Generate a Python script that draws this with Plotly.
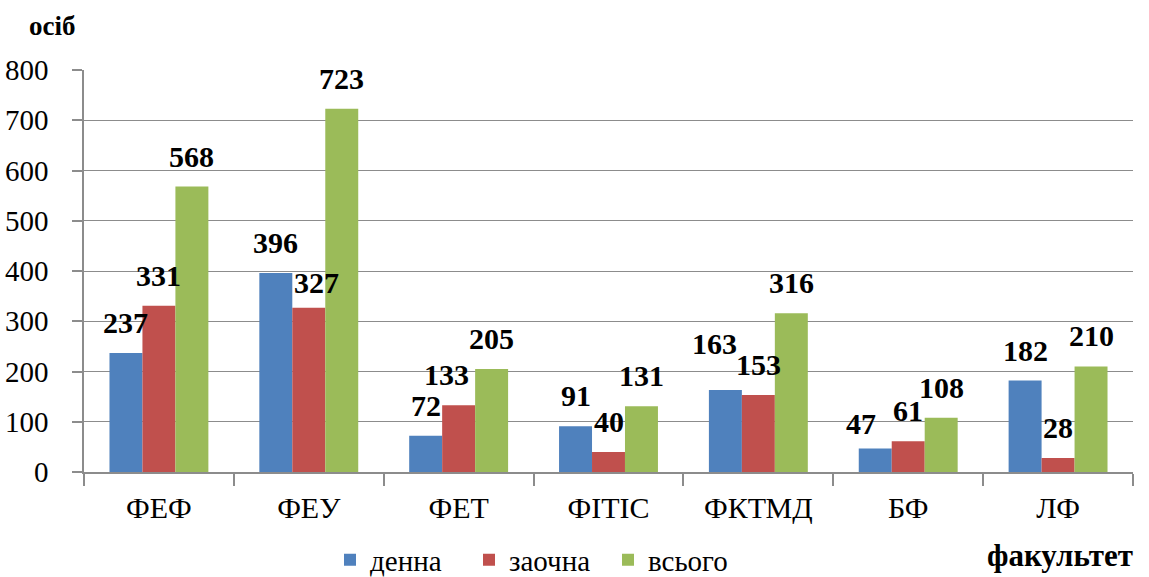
import plotly.graph_objects as go

categories = ["ФЕФ", "ФЕУ", "ФЕТ", "ФІТІС", "ФКТМД", "БФ", "ЛФ"]
series_names = ["денна", "заочна", "всього"]
denna = [237, 396, 72, 91, 163, 47, 182]
zaochna = [331, 327, 133, 40, 153, 61, 28]
vsogo = [568, 723, 205, 131, 316, 108, 210]
y_ticks = [0, 100, 200, 300, 400, 500, 600, 700, 800]

colors = ["#4F81BD", "#C0504D", "#9BBB59"]
FONT = "'Liberation Serif', 'Times New Roman', Tinos, serif"

# small nudges (px) for a few overlapping labels: (series, category) -> (dx, dy)
label_nudge = {(1, "ФЕТ"): (-12, 0), (1, "ФЕУ"): (8, -5),
               (0, "ФКТМД"): (-11, 16), (0, "БФ"): (-14, -6)}

# body margin is removed by a post script, so the figure fills the page
W, H = 1149, 577
px_left, px_right, px_top, px_bottom = 84, 1133, 70, 472  # plot area in px
ml, mt = px_left, px_top
mr, mb = W - px_right, H - px_bottom
plot_w = px_right - px_left
plot_h = px_bottom - px_top


def paper_x(px):
    return (px - px_left) / plot_w


def paper_y(py):
    return (px_bottom - py) / plot_h


fig = go.Figure()
all_series = [denna, zaochna, vsogo]
for name, vals, col in zip(series_names, all_series, colors):
    fig.add_trace(go.Bar(x=categories, y=vals, name=name, marker_color=col,
                         marker_line_width=0))

cat_w = plot_w / len(categories)
bargap = 0.34
bar_w = cat_w * (1 - bargap) / 3

annotations = []
for si, vals in enumerate(all_series):
    for cat, v in zip(categories, vals):
        dx, dy = label_nudge.get((si, cat), (0, 0))
        annotations.append(dict(
            x=cat, y=v, xref="x", yref="y", text=str(v), showarrow=False,
            xanchor="center", yanchor="bottom",
            xshift=(si - 1) * bar_w + dx, yshift=12 + dy,
            font=dict(family=FONT, size=30, color="black", weight="bold")))

annotations.append(dict(text="<b>осіб</b>", x=paper_x(52), y=paper_y(26),
                        xref="paper", yref="paper", showarrow=False,
                        xanchor="center", yanchor="middle",
                        font=dict(family=FONT, size=27, color="black")))
annotations.append(dict(text="<b>факультет</b>", x=paper_x(1060), y=paper_y(555),
                        xref="paper", yref="paper", showarrow=False,
                        xanchor="center", yanchor="middle",
                        font=dict(family=FONT, size=31, color="black")))

fig.update_layout(
    width=W, height=H,
    margin=dict(l=ml, r=mr, t=mt, b=mb, autoexpand=False),
    paper_bgcolor="white", plot_bgcolor="white",
    barmode="group", bargap=bargap, bargroupgap=0,
    font=dict(family=FONT, size=28, color="black"),
    annotations=annotations,
    showlegend=True,
    legend=dict(orientation="h", x=paper_x(330), xanchor="left",
                y=paper_y(560), yanchor="middle",
                font=dict(family=FONT, size=29, color="black"),
                itemwidth=30, tracegroupgap=0,
                entrywidth=94, entrywidthmode="pixels"),
    xaxis=dict(showline=True, linecolor="#8C8C8C", linewidth=1.5,
               ticks="outside", ticklen=12, tickcolor="#8C8C8C", tickwidth=1.5,
               tickson="boundaries", showgrid=False,
               tickfont=dict(family=FONT, size=30, color="black"),
               ticklabelstandoff=8),
    yaxis=dict(range=[0, 800], tickvals=y_ticks, showline=True, linecolor="#8C8C8C",
               linewidth=1.5, ticks="outside", ticklen=10, tickcolor="#8C8C8C",
               tickwidth=1.5, showgrid=True, gridcolor="#8C8C8C", gridwidth=1.2,
               zeroline=False,
               tickfont=dict(family=FONT, size=29, color="black"),
               ticklabelstandoff=18),
)

fig.write_html("out.html", config={"displayModeBar": False},
               post_script="document.body.style.margin='0';"
                           "document.body.style.overflow='hidden';")
